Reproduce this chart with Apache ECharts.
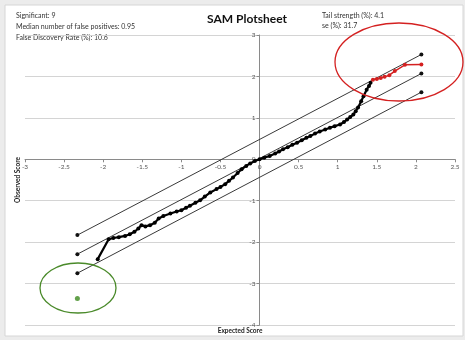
<!DOCTYPE html>
<html><head><meta charset="utf-8">
<script src="https://cdn.jsdelivr.net/npm/echarts@6/dist/echarts.min.js"></script>
<style>html,body{margin:0;padding:0;background:#ececec;}#c{width:465px;height:340px;}</style>
</head><body><div id="c"></div>
<script>
// Observed vs expected scores (non-significant genes)
var expectedBlack = [-2.07,-1.93,-1.87,-1.80,-1.72,-1.66,-1.60,-1.55,-1.51,-1.46,-1.40,-1.34,-1.29,-1.23,-1.14,-1.06,-1.00,-0.94,-0.89,-0.82,-0.76,-0.70,-0.63,-0.55,-0.50,-0.44,-0.39,-0.34,-0.28,-0.23,-0.17,-0.12,-0.06,0.00,0.06,0.13,0.20,0.25,0.30,0.36,0.42,0.48,0.54,0.60,0.65,0.71,0.77,0.84,0.90,0.96,1.03,1.08,1.12,1.16,1.20,1.23,1.26,1.30,1.33,1.37,1.40,1.42];
var observedBlack = [-2.41,-1.93,-1.90,-1.88,-1.85,-1.81,-1.75,-1.67,-1.59,-1.62,-1.59,-1.53,-1.43,-1.37,-1.31,-1.26,-1.23,-1.17,-1.12,-1.05,-0.99,-0.90,-0.80,-0.72,-0.67,-0.60,-0.52,-0.44,-0.33,-0.24,-0.16,-0.10,-0.04,0.00,0.04,0.08,0.14,0.19,0.24,0.29,0.35,0.40,0.46,0.52,0.56,0.62,0.67,0.72,0.76,0.80,0.84,0.90,0.96,1.02,1.08,1.16,1.25,1.40,1.52,1.68,1.77,1.85];
// Significant positive genes (red)
var expectedRed = [1.45,1.50,1.55,1.60,1.66,1.73,1.86,2.07];
var observedRed = [1.92,1.94,1.96,1.99,2.03,2.13,2.28,2.29];
// Significant negative gene (green)
var expectedGreen = [-2.33];
var observedGreen = [-3.36];
// Reference lines: [x, y] endpoints
var lineUpperX = [-2.33, 2.07], lineUpperY = [-1.83, 2.53];
var lineMidX = [-2.33, 2.07],   lineMidY = [-2.29, 2.07];
var lineLowerX = [-2.33, 2.07], lineLowerY = [-2.75, 1.62];
// Axis ticks
var xMin = -3, xMax = 2.5, xStep = 0.5;
var yMin = -4, yMax = 3, yStep = 1;
var infoLeft = ['Significant: 9', 'Median number of false positives: 0.95', 'False Discovery Rate (%): 10.6'];
var infoRight = ['Tail strength (%): 4.1', 'se (%): 31.7'];

function pairs(xs, ys){ return xs.map(function(x,i){ return [x, ys[i]]; }); }

var chart = echarts.init(document.getElementById('c'), null, {renderer:'canvas'});
var F = 'Lato, "Open Sans", sans-serif';
var W = 465, H = 340;
var gridLeft = 25, gridRight = 10, gridTop = 35, gridBottom = 15;
var plotW = W - gridLeft - gridRight, plotH = H - gridTop - gridBottom;
var yAxisOffset = -plotW * (0 - xMin) / (xMax - xMin);
var zeroY = gridTop + plotH * (yMax - 0) / (yMax - yMin);
var refLine = function(xs, ys){
  return {type:'line', data:pairs(xs, ys), symbol:'circle', symbolSize:4, showSymbol:true,
    lineStyle:{color:'#3a3a3a', width:1}, itemStyle:{color:'#111'}, silent:true, z:2, animation:false};
};
var option = {
  animation:false,
  backgroundColor:'transparent',
  grid:[
    {left:gridLeft, right:gridRight, top:gridTop, bottom:gridBottom},
    {left:gridLeft, right:gridRight, top:zeroY - 10, height:10}
  ],
  xAxis:[
    {type:'value', gridIndex:0, min:xMin, max:xMax, interval:xStep,
      axisLine:{show:false}, axisTick:{show:false}, axisLabel:{show:false}, splitLine:{show:false}},
    {type:'value', gridIndex:1, min:xMin, max:xMax, interval:xStep, position:'bottom',
      axisLine:{onZero:false, lineStyle:{color:'#8a8a8a', width:1}},
      axisTick:{show:true, length:3, lineStyle:{color:'#8a8a8a'}},
      axisLabel:{fontSize:6.5, color:'#555', fontFamily:F, margin:4},
      splitLine:{show:false}}
  ],
  yAxis:[
    {type:'value', gridIndex:0, min:yMin, max:yMax, interval:yStep, position:'left', offset:yAxisOffset,
      axisLine:{onZero:false, lineStyle:{color:'#8a8a8a', width:1}},
      axisTick:{show:true, length:3, lineStyle:{color:'#8a8a8a'}},
      axisLabel:{fontSize:6.5, color:'#555', fontFamily:F, margin:4},
      splitLine:{show:true, lineStyle:{color:'#d4d4d4', width:1}}},
    {type:'value', gridIndex:1, min:0, max:1, show:false}
  ],
  series:[
    refLine(lineUpperX, lineUpperY),
    refLine(lineMidX, lineMidY),
    refLine(lineLowerX, lineLowerY),
    {type:'line', data:pairs(expectedBlack, observedBlack), symbol:'circle', symbolSize:4,
      lineStyle:{color:'#000', width:2.2}, itemStyle:{color:'#000'}, z:3},
    {type:'line', data:pairs(expectedRed, observedRed), symbol:'circle', symbolSize:4,
      lineStyle:{color:'#d42020', width:1.5}, itemStyle:{color:'#d42020'}, z:4},
    {type:'scatter', data:pairs(expectedGreen, observedGreen), symbol:'circle', symbolSize:5,
      itemStyle:{color:'#3c8a1e'}, z:4}
  ],
  graphic:[
    {type:'rect', shape:{x:5, y:5, width:458, height:331}, style:{fill:'#fff', stroke:'#d6d6d6', lineWidth:1}, z:-10, silent:true},
    {type:'text', left:16, top:12, style:{text:infoLeft[0], font:'7px '+F, fill:'#333'}},
    {type:'text', left:16, top:23, style:{text:infoLeft[1], font:'7px '+F, fill:'#333'}},
    {type:'text', left:16, top:34, style:{text:infoLeft[2], font:'7px '+F, fill:'#333'}},
    {type:'text', left:322, top:12, style:{text:infoRight[0], font:'7px '+F, fill:'#333'}},
    {type:'text', left:322, top:22, style:{text:infoRight[1], font:'7px '+F, fill:'#333'}},
    {type:'text', x:247, y:19, style:{text:'SAM Plotsheet', font:'bold 12px '+F, fill:'#111', align:'center', verticalAlign:'middle'}},
    {type:'text', x:240, y:331, style:{text:'Expected Score', font:'bold 6.5px '+F, fill:'#222', align:'center', verticalAlign:'middle'}},
    {type:'text', x:18, y:180, rotation:Math.PI/2, style:{text:'Observed Score', font:'bold 6.5px '+F, fill:'#222', align:'center', verticalAlign:'middle'}},
    {type:'ellipse', shape:{cx:78, cy:288, rx:38, ry:25}, style:{fill:'none', stroke:'#4a8a2a', lineWidth:1.3}, z:10, silent:true},
    {type:'ellipse', shape:{cx:399, cy:62, rx:64, ry:39}, style:{fill:'none', stroke:'#d42020', lineWidth:1.3}, z:10, silent:true}
  ]
};
chart.setOption(option);
</script></body></html>
